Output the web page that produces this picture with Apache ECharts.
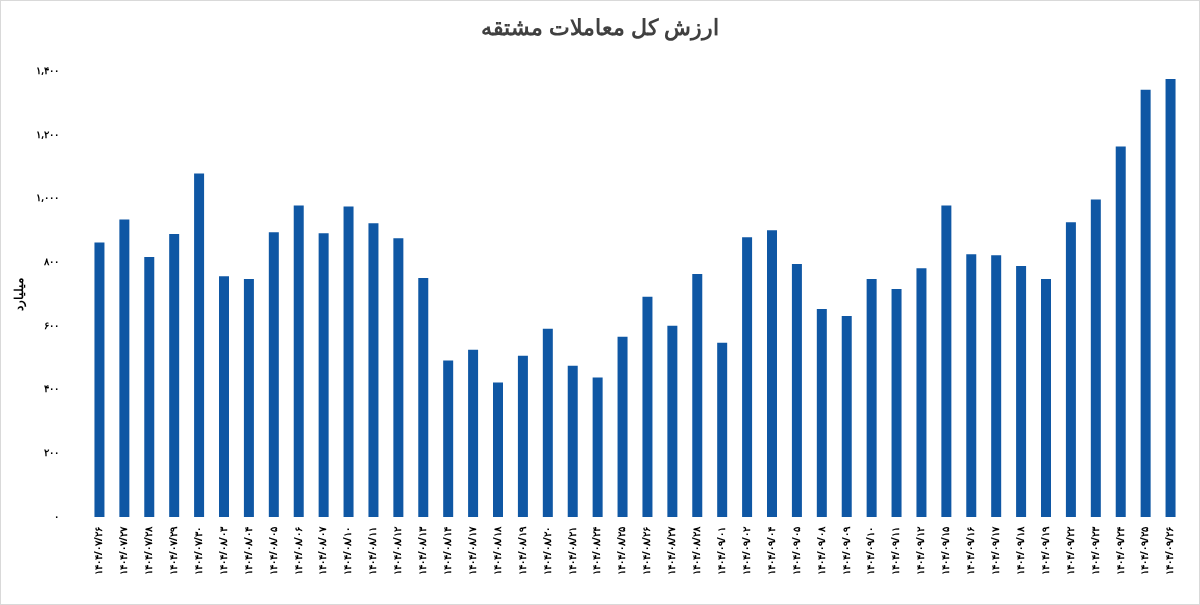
<!DOCTYPE html>
<html>
<head>
<meta charset="utf-8">
<script src="https://cdn.jsdelivr.net/npm/echarts@6/dist/echarts.min.js"></script>
<style>
html,body{margin:0;padding:0;background:#fff;}
#chart{width:1198px;height:603px;border:1px solid #d9d9d9;}
</style>
</head>
<body>
<div id="chart"></div>
<script>
// تاریخ‌ها (روز/ماه)
const days = ['۰۷/۲۶','۰۷/۲۷','۰۷/۲۸','۰۷/۲۹','۰۷/۳۰','۰۸/۰۳','۰۸/۰۴','۰۸/۰۵','۰۸/۰۶','۰۸/۰۷',
	'۰۸/۱۰','۰۸/۱۱','۰۸/۱۲','۰۸/۱۳','۰۸/۱۴','۰۸/۱۷','۰۸/۱۸','۰۸/۱۹','۰۸/۲۰','۰۸/۲۱',
	'۰۸/۲۴','۰۸/۲۵','۰۸/۲۶','۰۸/۲۷','۰۸/۲۸','۰۹/۰۱','۰۹/۰۲','۰۹/۰۴','۰۹/۰۵','۰۹/۰۸',
	'۰۹/۰۹','۰۹/۱۰','۰۹/۱۱','۰۹/۱۲','۰۹/۱۵','۰۹/۱۶','۰۹/۱۷','۰۹/۱۸','۰۹/۱۹','۰۹/۲۲',
	'۰۹/۲۳','۰۹/۲۴','۰۹/۲۵','۰۹/۲۶'];
const categories = days.map(d => '۱۴۰۴/' + d);
// ارزش کل معاملات (میلیارد)
const values = [862, 934, 816, 888, 1078, 756, 747, 894, 978, 891,
	975, 922, 875, 750, 491, 525, 422, 506, 591, 475,
	438, 566, 691, 600, 763, 547, 878, 900, 794, 653,
	631, 747, 716, 781, 978, 825, 822, 788, 747, 925,
	997, 1163, 1341, 1375];
const yTicks = [0, 200, 400, 600, 800, 1000, 1200, 1400];

const fa = n => n.toLocaleString('en-US').replace(/[0-9]/g, d => '۰۱۲۳۴۵۶۷۸۹'[d]);

const myChart = echarts.init(document.getElementById('chart'));
myChart.setOption({
	animation: false,
	title: {
		text: 'ارزش کل معاملات مشتقه',
		left: 'center',
		top: 12,
		textStyle: {fontFamily: 'Noto Sans', fontSize: 22, fontWeight: 'bold', color: '#404040'}
	},
	grid: {left: 86, right: 16, top: 70, bottom: 87},
	xAxis: {
		type: 'category',
		data: categories,
		axisLine: {show: false},
		axisTick: {show: false},
		axisLabel: {rotate: 90, interval: 0, fontSize: 10, fontWeight: 'bold', color: '#000', fontFamily: 'Noto Sans', margin: 10}
	},
	yAxis: {
		type: 'value',
		min: yTicks[0],
		max: yTicks[yTicks.length - 1],
		interval: 200,
		name: 'میلیارد',
		nameLocation: 'middle',
		nameGap: 58,
		nameRotate: 90,
		nameTextStyle: {fontFamily: 'Noto Sans', fontSize: 12, fontWeight: 'bold', color: '#000'},
		splitLine: {show: false},
		axisLabel: {formatter: v => fa(v), fontSize: 10, fontWeight: 'bold', color: '#000', fontFamily: 'Noto Sans', margin: 28}
	},
	series: [{
		type: 'bar',
		data: values,
		barWidth: 10,
		itemStyle: {color: '#0f57a4'}
	}]
});
</script>
</body>
</html>
